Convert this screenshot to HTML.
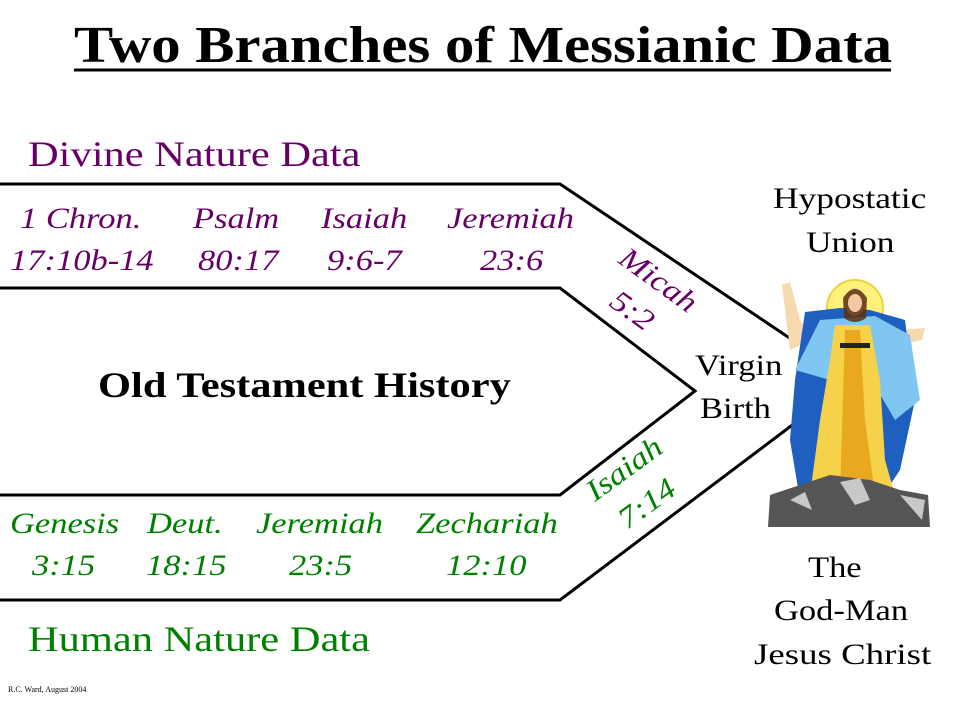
<!DOCTYPE html>
<html><head><style>
body{margin:0;width:960px;height:720px;background:#fff;overflow:hidden;font-family:"Liberation Serif",serif;}
</style></head><body>
<svg width="960" height="720" viewBox="0 0 960 720" xmlns="http://www.w3.org/2000/svg" font-family="Liberation Serif, serif">
<text transform="translate(74,62) scale(1.13,1)" font-size="52" font-weight="bold">Two Branches of Messianic Data</text>
<line x1="74" y1="70" x2="891" y2="70" stroke="#000" stroke-width="3"/>
<text transform="translate(28,166) scale(1.18,1)" font-size="36" fill="#660066">Divine Nature Data</text>
<text transform="translate(28,651) scale(1.18,1)" font-size="36" fill="#008000">Human Nature Data</text>
<g fill="none" stroke="#000" stroke-width="3">
<polyline points="0,184 560,184 797,343"/>
<polyline points="0,288 560,288 695,391 560,495 0,495"/>
<polyline points="0,600 560,600 795,423"/>
</g>
<g font-size="30" font-style="italic" fill="#660066">
<text transform="translate(20,228) scale(1.15,1)">1 Chron.</text><text transform="translate(10,270) scale(1.15,1)">17:10b-14</text>
<text transform="translate(193,228) scale(1.15,1)">Psalm</text><text transform="translate(198,270) scale(1.15,1)">80:17</text>
<text transform="translate(321,228) scale(1.15,1)">Isaiah</text><text transform="translate(327,270) scale(1.15,1)">9:6-7</text>
<text transform="translate(447,228) scale(1.15,1)">Jeremiah</text><text transform="translate(480,270) scale(1.15,1)">23:6</text>
<text transform="translate(617,262) rotate(36) scale(1.15,1)">Micah</text>
<text transform="translate(608,305) rotate(36) scale(1.15,1)">5:2</text>
</g>
<g font-size="30" font-style="italic" fill="#008000">
<text transform="translate(10,533) scale(1.15,1)">Genesis</text><text transform="translate(32,575) scale(1.15,1)">3:15</text>
<text transform="translate(147,533) scale(1.15,1)">Deut.</text><text transform="translate(146,575) scale(1.15,1)">18:15</text>
<text transform="translate(256,533) scale(1.15,1)">Jeremiah</text><text transform="translate(289,575) scale(1.15,1)">23:5</text>
<text transform="translate(416,533) scale(1.15,1)">Zechariah</text><text transform="translate(446,575) scale(1.15,1)">12:10</text>
<text transform="translate(595,502) rotate(-36) scale(1.15,1)">Isaiah</text>
<text transform="translate(627,530) rotate(-36) scale(1.15,1)">7:14</text>
</g>
<text transform="translate(98,397) scale(1.18,1)" font-size="36" font-weight="bold">Old Testament History</text>
<g font-size="30">
<text transform="translate(695,375) scale(1.15,1)">Virgin</text><text transform="translate(700,418) scale(1.15,1)">Birth</text>
<text transform="translate(773,208) scale(1.18,1)">Hypostatic</text><text transform="translate(806,252) scale(1.18,1)">Union</text>
<text transform="translate(808,577) scale(1.15,1)">The</text><text transform="translate(774,620) scale(1.15,1)">God-Man</text><text transform="translate(754,664) scale(1.23,1)">Jesus Christ</text>
</g>
<text x="8" y="692" font-size="8">R.C. Ward, August 2004</text>
<!-- figure -->
<circle cx="855" cy="308" r="28" fill="#fff27a" stroke="#f0d040" stroke-width="2"/>
<path d="M782,285 L790,282 L800,320 L812,340 L790,350 Z" fill="#f7d9b0"/>
<path d="M900,330 L925,328 L922,340 L900,345 Z" fill="#f7d9b0"/>
<path d="M805,312 L840,308 L870,310 L905,320 L915,400 L900,470 L880,500 L800,500 L790,440 L795,380 Z" fill="#1e5fc0"/>
<path d="M820,320 L875,316 L910,335 L920,400 L895,420 L860,360 L830,380 L795,370 Z" fill="#7fc6f0"/>
<path d="M835,325 L870,325 L880,380 L885,460 L895,495 L810,495 L820,420 L830,360 Z" fill="#f6d24a"/>
<path d="M845,330 L860,330 L865,420 L875,495 L840,495 Z" fill="#e8a820"/>
<rect x="840" y="343" width="30" height="5" fill="#222"/>
<ellipse cx="855" cy="302" rx="10" ry="14" fill="#f2c9a0"/>
<path d="M843,298 Q855,280 867,298 L866,318 Q855,326 844,318 Z" fill="#5a3010" opacity="0.85"/>
<ellipse cx="855" cy="303" rx="7" ry="9" fill="#f2c9a0"/>
<path d="M768,527 L770,495 L800,485 L830,475 L870,480 L900,490 L928,495 L930,527 Z" fill="#555"/>
<path d="M790,500 L805,492 L812,510 Z M840,482 L860,478 L870,500 L855,505 Z M900,495 L925,500 L922,520 Z" fill="#c8c8c8"/>
</svg>
</body></html>
